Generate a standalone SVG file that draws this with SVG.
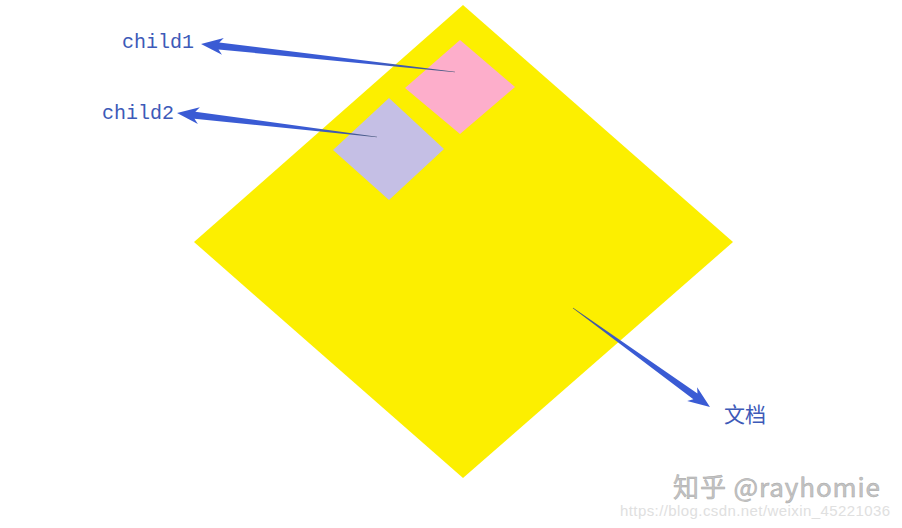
<svg xmlns="http://www.w3.org/2000/svg" width="902" height="528" viewBox="0 0 902 528">
<style>
.lbl{font-family:"Liberation Mono","DejaVu Sans Mono",monospace;font-size:20px;fill:#3d5ab8}
.cjk{font-family:"Noto Sans CJK SC","Noto Sans",sans-serif;font-size:21px;fill:#3d5ab8}
.wm{font-family:"Noto Sans CJK SC","Liberation Sans",sans-serif;font-size:26px;fill:#c4c4c4;stroke:#a8a8a8;stroke-width:0.5}
.url{font-family:"Liberation Sans",Arial,sans-serif;font-size:15px;fill:#e0e0e0}
</style>
<defs>
<linearGradient id="g" x1="0" y1="0" x2="1" y2="0">
<stop offset="0" stop-color="#4a5a7a"/>
<stop offset="0.35" stop-color="#3a5bd4"/>
<stop offset="1" stop-color="#3a5bd4"/>
</linearGradient>
</defs>
<rect width="902" height="528" fill="#ffffff"/>
<g id="document"><polygon points="463,5 733,242 463,478 194,242" fill="#fcef00"/></g>
<g id="child1"><polygon points="460,40 515,87 460,134 405,88" fill="#fdaecb"/></g>
<g id="child2"><polygon points="389,98 444,149 389,200 333,150" fill="#c5bfe5"/></g>
<g id="connectors">
<polygon fill="url(#g)" transform="translate(455,72) rotate(186.29)" points="0,-0.3 237.5,-3.5 233.5,-8.5 255.5,0 233.5,8.5 237.5,3.5 0,0.3"/>
<polygon fill="url(#g)" transform="translate(377,137) rotate(186.84)" points="0,-0.3 183.4,-3.5 179.4,-8.5 201.4,0 179.4,8.5 183.4,3.5 0,0.3"/>
<polygon fill="url(#g)" transform="translate(573,308) rotate(35.85)" points="0,-0.3 151,-3.5 147,-8.5 169,0 147,8.5 151,3.5 0,0.3"/>
</g>
<g id="labels">
<text class="lbl" x="122" y="48">child1</text>
<text class="lbl" x="102" y="119">child2</text>
<text class="cjk" x="724" y="422">文档</text>
</g>
<g id="watermark">
<text class="wm" x="673" y="497" textLength="207">知乎 @rayhomie</text>
<text class="url" x="620" y="516" textLength="270">https://blog.csdn.net/weixin_45221036</text>
</g>
</svg>
